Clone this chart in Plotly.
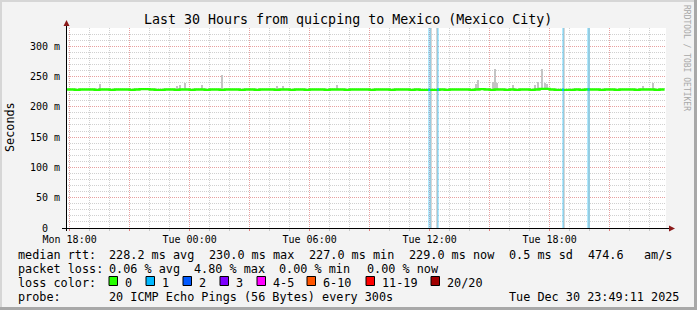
import plotly.graph_objects as go
from datetime import datetime, timedelta

# ---------------- data ----------------
TITLE = "Last 30 Hours from quicping to Mexico (Mexico City)"
RANGE_START = "2025-12-29 17:49:11"
RANGE_END = "2025-12-30 23:49:11"

# median RTT (ms), every 15 minutes from Mon 17:45
MEDIAN_T0 = "2025-12-29 17:45"
MEDIAN_STEP_MIN = 15
median_rtt_ms = [
    228.5, 228.5, 228.0, 228.5, 228.5, 228.5, 228.0, 228.5, 228.5, 228.0, 228.5, 228.5,
    228.5, 228.0, 228.5, 229.0, 229.0, 228.5, 228.0, 228.0, 228.5, 228.5, 228.0, 228.5,
    228.5, 228.0, 228.5, 228.5, 228.0, 228.5, 228.5, 228.0, 228.5, 228.5, 228.5, 228.0,
    228.5, 228.5, 228.0, 228.5, 228.5, 228.5, 228.0, 228.5, 228.5, 228.0, 228.5, 228.5,
    228.0, 228.5, 228.5, 228.5, 228.0, 228.5, 228.5, 228.5, 228.0, 228.5, 228.5, 228.5,
    228.5, 228.0, 228.5, 228.5, 228.5, 228.0, 228.5, 228.5, 228.5, 228.0, 228.5, 228.0,
    228.0, 228.0, 228.0, 228.5, 228.0, 228.5, 228.5, 228.5, 228.5, 228.0, 228.5, 229.0,
    228.5, 228.0, 228.5, 228.5, 228.0, 228.5, 228.0, 228.5, 228.5, 228.0, 228.5, 229.5,
    229.5, 228.5, 228.0, 228.0, 228.0, 228.0, 228.5, 228.0, 228.5, 228.5, 228.5, 228.0,
    228.5, 228.5, 228.0, 228.5, 228.5, 228.5, 228.0, 228.5, 228.5, 228.5, 228.0, 228.5,
    228.5,
]

# smoke spikes (max RTT of the 20 pings, ms)
smoke_times = [
    "2025-12-29 19:31", "2025-12-29 23:22", "2025-12-29 23:31", "2025-12-29 23:46",
    "2025-12-30 00:37", "2025-12-30 01:39", "2025-12-30 04:22", "2025-12-30 04:40",
    "2025-12-30 07:22", "2025-12-30 14:19", "2025-12-30 14:25", "2025-12-30 15:10",
    "2025-12-30 15:18", "2025-12-30 15:22", "2025-12-30 16:10", "2025-12-30 17:16",
    "2025-12-30 17:25", "2025-12-30 17:37", "2025-12-30 17:46", "2025-12-30 17:52",
    "2025-12-30 22:40", "2025-12-30 23:10",
]
smoke_top_ms = [
    237, 235, 236, 239.5,
    236, 251.7, 235, 235,
    236, 238, 245, 241,
    263, 240, 236, 236,
    241, 261.6, 240, 237,
    235, 239.5,
]
SMOKE_BASE_MS = 227

# full-height smoke (a ping far off the scale)
outlier_times = ["2025-12-30 12:04", "2025-12-30 12:23", "2025-12-30 18:44", "2025-12-30 19:59"]

# packet loss events (lost pings out of 20)
loss_times = ["2025-12-30 11:59", "2025-12-30 12:25", "2025-12-30 18:40", "2025-12-30 19:57"]
loss_count = [1, 1, 1, 1]

loss_labels = ["0", "1", "2", "3", "4-5", "6-10", "11-19", "20/20"]
loss_colors = ["#26ff00", "#00b8ff", "#0059ff", "#7e00ff", "#ff00ff", "#ff5500", "#ff0000", "#a10000"]

y_tickvals = [0, 50, 100, 150, 200, 250, 300]
y_ticktext = ["0\u00a0\u00a0", "50 m", "100 m", "150 m", "200 m", "250 m", "300 m"]
x_tickvals = ["2025-12-29 18:00", "2025-12-29 21:00", "2025-12-30 00:00", "2025-12-30 03:00",
              "2025-12-30 06:00", "2025-12-30 09:00", "2025-12-30 12:00", "2025-12-30 15:00",
              "2025-12-30 18:00", "2025-12-30 21:00"]
x_ticktext = ["Mon 18:00", "", "Tue 00:00", "", "Tue 06:00", "", "Tue 12:00", "", "Tue 18:00", ""]

legend_line1 = [("median rtt:", 16), ("228.2 ms avg", 107), ("230.0 ms max", 207), ("227.0 ms min", 307),
                ("229.0 ms now", 407), ("0.5 ms sd", 507), ("474.6", 586), ("am/s", 642)]
legend_line2 = [("packet loss:", 16), ("0.06 % avg", 107), ("4.80 % max", 192), ("0.00 % min", 277),
                ("0.00 % now", 365)]
probe_text = "20 ICMP Echo Pings (56 Bytes) every 300s"
stamp_text = "Tue Dec 30 23:49:11 2025"

# ---------------- helpers ----------------
W, H = 697, 310
L, R, T, B = 66, 31, 28, 82
PW, PH = W - L - R, H - T - B
FONT = "DejaVu Sans Mono"


def px(x):
    return (x - L) / PW


def py(y):
    return (H - B - y) / PH


t0 = datetime.strptime(MEDIAN_T0, "%Y-%m-%d %H:%M")
median_times = [t0 + timedelta(minutes=MEDIAN_STEP_MIN * i) for i in range(len(median_rtt_ms))]


def median_at(ts):
    t = datetime.strptime(ts, "%Y-%m-%d %H:%M")
    idx = min(range(len(median_times)), key=lambda i: abs((median_times[i] - t).total_seconds()))
    return median_rtt_ms[idx], t


fig = go.Figure()

# smoke spikes
fig.add_trace(go.Bar(
    x=smoke_times, y=[v - SMOKE_BASE_MS for v in smoke_top_ms], base=SMOKE_BASE_MS,
    width=5 * 60 * 1000, marker=dict(color="#c4c4c4", line=dict(width=0)),
    hoverinfo="skip", showlegend=False))

# off-scale smoke
fig.add_trace(go.Bar(
    x=outlier_times, y=[330] * len(outlier_times), base=0,
    width=6 * 60 * 1000, marker=dict(color="#d6d6d6", line=dict(width=0)),
    hoverinfo="skip", showlegend=False))

# loss bars
fig.add_trace(go.Bar(
    x=loss_times, y=[330] * len(loss_times), base=0,
    width=8 * 60 * 1000,
    marker=dict(color=[loss_colors[c] for c in loss_count], opacity=0.3, line=dict(width=0)),
    hoverinfo="skip", showlegend=False))

# median line
fig.add_trace(go.Scatter(
    x=median_times, y=median_rtt_ms, mode="lines",
    line=dict(color="#26ff00", width=2.3, shape="hv"),
    hoverinfo="skip", showlegend=False))

# loss-coloured median segments
for ts, c in zip(loss_times, loss_count):
    v, t = median_at(ts)
    fig.add_trace(go.Scatter(
        x=[t - timedelta(minutes=3), t + timedelta(minutes=3)], y=[v, v], mode="lines",
        line=dict(color=loss_colors[c], width=2.3), hoverinfo="skip", showlegend=False))

fig.update_layout(
    width=W, height=H,
    margin=dict(l=L, r=R, t=T, b=B, pad=0),
    paper_bgcolor="#f3f3f3", plot_bgcolor="#ffffff",
    barmode="overlay", bargap=0,
    font=dict(family=FONT, size=10, color="#000000"),
    xaxis=dict(
        type="date", range=[RANGE_START, RANGE_END],
        tickmode="array", tickvals=x_tickvals, ticktext=x_ticktext,
        showgrid=True, gridcolor="#e8a0a0", griddash="1px,1px", gridwidth=1,
        ticks="outside", ticklen=2, tickcolor="#e08080",
        minor=dict(dtick=3600000, tick0="2025-12-29 18:00", showgrid=True,
                   gridcolor="#d0d0d0", griddash="1px,1px", gridwidth=1,
                   ticks="outside", ticklen=2, tickcolor="#c8c8c8"),
        showline=False, zeroline=False, tickfont=dict(family=FONT, size=10),
        fixedrange=True,
    ),
    yaxis=dict(
        range=[0, 330], tickmode="array", tickvals=y_tickvals, ticktext=y_ticktext,
        showgrid=True, gridcolor="#e8a0a0", griddash="1px,1px", gridwidth=1,
        ticks="outside", ticklen=3, tickcolor="rgba(0,0,0,0)",
        minor=dict(dtick=10, tick0=0, showgrid=True, gridcolor="#d0d0d0",
                   griddash="1px,1px", gridwidth=1),
        showline=False, zeroline=False, tickfont=dict(family=FONT, size=10),
        fixedrange=True,
    ),
)

shapes = []
# frame
shapes.append(dict(type="rect", xref="paper", yref="paper", x0=px(0), x1=px(W), y0=py(0), y1=py(2),
                   fillcolor="#d6d6d6", line=dict(width=0), layer="above"))
shapes.append(dict(type="rect", xref="paper", yref="paper", x0=px(0), x1=px(2), y0=py(0), y1=py(H),
                   fillcolor="#d6d6d6", line=dict(width=0), layer="above"))
shapes.append(dict(type="rect", xref="paper", yref="paper", x0=px(0), x1=px(W), y0=py(H - 3), y1=py(H),
                   fillcolor="#a8a8a8", line=dict(width=0), layer="above"))
shapes.append(dict(type="rect", xref="paper", yref="paper", x0=px(W - 3), x1=px(W), y0=py(0), y1=py(H),
                   fillcolor="#a8a8a8", line=dict(width=0), layer="above"))
# axes
shapes.append(dict(type="line", xref="paper", yref="paper", x0=px(62), x1=px(670), y0=py(228.5), y1=py(228.5),
                   line=dict(color="#000000", width=1), layer="above"))
shapes.append(dict(type="line", xref="paper", yref="paper", x0=px(66.5), x1=px(66.5), y0=py(231), y1=py(23),
                   line=dict(color="#000000", width=1), layer="above"))
# arrows
shapes.append(dict(type="path", xref="paper", yref="paper",
                   path=f"M {px(63.5)} {py(26)} L {px(69.5)} {py(26)} L {px(66.5)} {py(20)} Z",
                   fillcolor="#8b1a1a", line=dict(width=0), layer="above"))
shapes.append(dict(type="path", xref="paper", yref="paper",
                   path=f"M {px(669)} {py(225.5)} L {px(669)} {py(231.5)} L {px(675)} {py(228.5)} Z",
                   fillcolor="#8b1a1a", line=dict(width=0), layer="above"))
# loss colour boxes
box_x = [109, 146, 183, 220, 257, 307, 366, 431]
for bx, col in zip(box_x, loss_colors):
    shapes.append(dict(type="rect", xref="paper", yref="paper", x0=px(bx), x1=px(bx + 8.5),
                       y0=py(285.5), y1=py(276.5), fillcolor=col,
                       line=dict(color="#000000", width=1), layer="above"))
fig.update_layout(shapes=shapes)

ann = []


def text(s, x, y, size=11.8, anchor="left", color="#000000", angle=0, yanchor="middle"):
    ann.append(dict(text=s.replace(" ", "\u00a0"), x=px(x), y=py(y), xref="paper", yref="paper",
                    xanchor=anchor, yanchor=yanchor, showarrow=False, textangle=angle,
                    font=dict(family=FONT, size=size, color=color)))


text(TITLE, 348, 19, size=13.3, anchor="center")
text("Seconds", 10, 127, size=11.8, anchor="center", angle=-90)
text("RRDTOOL / TOBI OETIKER", 687, 58, size=8, anchor="center", angle=90, color="#a8a8a8")
for s, x in legend_line1:
    text(s, x - 0.5, 254.5)
for s, x in legend_line2:
    text(s, x - 0.5, 268.5)
text("loss color:", 15.5, 282.5)
label_x = [124, 161, 198, 234.5, 271.5, 322, 380.5, 445.5]
for s, x in zip(loss_labels, label_x):
    text(s, x - 1, 282.5)
text("probe:", 15.5, 296.5)
text(probe_text, 106.5, 296.5)
text(stamp_text, 681, 296.5, anchor="right")
fig.update_layout(annotations=ann)

fig.write_html("out.html")
